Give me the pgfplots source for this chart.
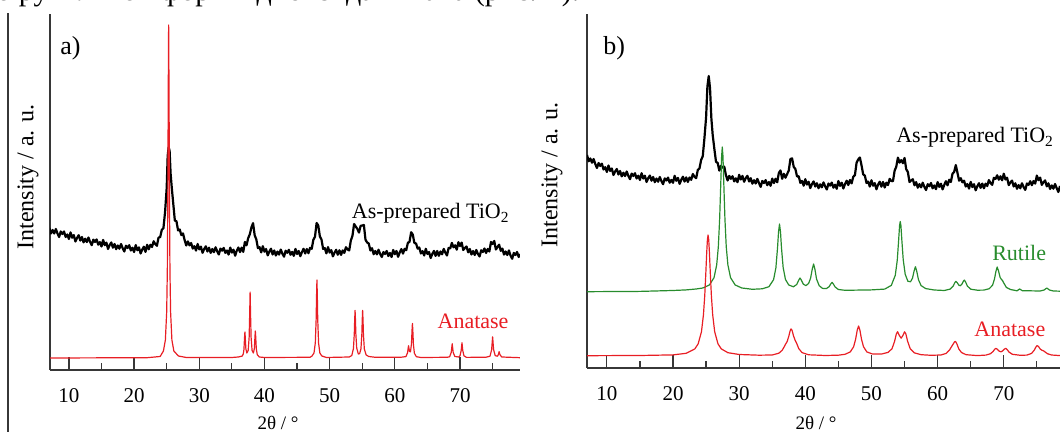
\documentclass[border=0pt]{standalone}
\usepackage{fontspec}
\setmainfont{Liberation Serif}
\usepackage{pgfplots}
\pgfplotsset{compat=1.18}
\definecolor{xred}{RGB}{232,30,36}
\definecolor{xgreen}{RGB}{40,140,45}
\definecolor{axgray}{RGB}{55,55,55}
\pgfplotsset{
  xrd/.style={
    scale only axis, anchor=south west,
    axis x line*=bottom, axis y line*=left,
    ytick=\empty,
    xtick={10,20,...,70}, minor xtick={15,25,...,75},
    tick align=inside,
    major tick length=6.5pt, minor tick length=3.5pt,
    every tick/.style={axgray, line width=0.6pt},
    axis line style={axgray, line width=0.7pt},
    xticklabel style={font=\fontsize{10.5}{12}\selectfont, yshift=-5.5pt},
    /pgf/number format/assume math mode=true,
  }
}
\begin{document}
\begin{tikzpicture}
\useasboundingbox (0,0) rectangle (530pt,216pt);
\begin{scope}
\clip (0,0) rectangle (530pt,216pt);
\node[anchor=base west, inner sep=0, font=\fontsize{15}{18}\selectfont] at (-2pt,215.5pt) {о рутильной формы диоксида титана (рис. 1).};
\end{scope}
\draw[axgray, line width=0.8pt] (4pt,0) -- (4pt,209.5pt);

% ---------------- panel a ----------------
\begin{axis}[xrd, at={(25pt,31pt)}, width=235pt, height=178pt,
  xmin=7.1, xmax=79.2, ymin=0, ymax=356]
\addplot[black, line width=1.1pt, line join=round] coordinates {
(7,142)(7.25,136.5)(7.5,140)(7.75,136.5)(8,141)(8.25,136.5)(8.5,133)(8.75,138.5)(9,136)(9.25,138.5)(9.5,133)(9.75,135.5)(10,131)(10.25,137.6)(10.5,132.3)(10.75,134.9)(11,128.5)(11.25,132.1)(11.5,134.8)(11.75,129.4)(12,133)(12.25,127.6)(12.5,131.3)(12.75,127.9)(13,132.5)(13.25,128.1)(13.5,124.8)(13.75,130.4)(14,128)(14.25,130.6)(14.5,125.3)(14.75,127.9)(15,123.5)(15.25,130.1)(15.5,124.8)(15.75,127.4)(16,121)(16.25,124.8)(16.5,127.5)(16.75,122.3)(17,126)(17.25,120.8)(17.5,124.5)(17.75,121.3)(18,126)(18.25,121.8)(18.5,118.5)(18.75,124.3)(19,122)(19.25,124.8)(19.5,119.5)(19.75,122.3)(20,118)(20.25,124.9)(20.5,119.8)(20.75,122.6)(21,116.5)(21.25,120.4)(21.5,123.3)(21.75,118.1)(22,125.2)(22.25,120.7)(22.5,125.2)(22.75,123)(23,128.7)(23.25,125.9)(23.5,124.2)(23.75,132.4)(24,132.9)(24.25,140.1)(24.5,141.8)(24.75,157.8)(25,181.7)(25.15,213.7)(25.3,222.7)(25.45,219.2)(25.6,196.6)(25.75,184.6)(26,167)(26.25,149.5)(26.5,148.8)(26.75,139.5)(27,140.5)(27.25,134.9)(27.5,136.6)(27.75,130)(28,124.5)(28.25,128.6)(28.5,124.6)(28.75,127)(29,121.4)(29.25,123.8)(29.5,119.4)(29.75,126)(30,120.6)(30.25,123.4)(30.5,117.2)(30.75,120.9)(31,123.7)(31.25,118.5)(31.5,122.3)(31.75,117.1)(32,121)(32.25,117.8)(32.5,122.7)(32.75,118.7)(33,115.5)(33.25,121.4)(33.5,119.3)(33.75,122.1)(34,117.1)(34.25,119.5)(34.5,115.4)(34.75,122.4)(35,117.4)(35.25,120.3)(35.5,114.3)(35.75,119.3)(36,122.5)(36.25,117.9)(36.5,122.4)(36.75,118.1)(37,128.1)(37.25,124.7)(37.5,131.8)(37.75,135.7)(38,142.6)(38.25,146.9)(38.5,134.7)(38.75,130.6)(39,121.8)(39.25,122.8)(39.5,117.6)(39.75,123.8)(40,118.3)(40.25,121)(40.5,114.6)(40.75,118.4)(41,121.3)(41.25,115.5)(41.5,119.5)(41.75,114.5)(42,118.4)(42.25,115.4)(42.5,120.4)(42.75,116.3)(43,113.3)(43.25,119.3)(43.5,117.2)(43.75,120.2)(44,115.2)(44.25,118.1)(44.5,114.1)(44.75,121.1)(45,116)(45.25,119)(45.5,113.8)(45.75,117.9)(46,121.2)(46.25,116.5)(46.5,121)(46.75,116.8)(47,122.2)(47.25,121.2)(47.5,130.2)(47.75,133.2)(48,147)(48.25,144.6)(48.5,133.6)(48.75,130.5)(49,121)(49.25,121.9)(49.5,116.6)(49.75,122.9)(50,117.4)(50.25,119.9)(50.5,113.6)(50.75,117.3)(51,120.2)(51.25,115.2)(51.5,119.7)(51.75,115.1)(52,119.6)(52.25,117.1)(52.5,122.8)(52.75,120.5)(53,119.5)(53.25,129.5)(53.5,134.2)(53.75,146)(54,143.5)(54.25,141.1)(54.5,137.4)(54.75,144.1)(55,144.5)(55.25,145)(55.5,130.2)(55.75,127.5)(56,126.5)(56.25,119.5)(56.5,121.8)(56.75,115.8)(57,119)(57.25,115.6)(57.5,120.3)(57.75,116)(58,113)(58.25,118)(58.5,116)(58.75,119)(59,114)(59.25,117)(59.5,113)(59.75,120)(60,115.8)(60.25,119)(60.5,113.2)(60.75,117.5)(61,120.9)(61.25,116.4)(61.5,121.2)(61.75,119.8)(62,127.2)(62.25,128.1)(62.5,137.8)(62.75,135.5)(63,127)(63.25,126.6)(63.5,121.3)(63.75,122.5)(64,116.5)(64.25,118.9)(64.5,114.5)(64.75,121.2)(65,116)(65.25,118)(65.5,112)(65.75,116)(66,119.1)(66.25,114.1)(66.5,119)(66.75,114.2)(67,118.5)(67.25,115.7)(67.5,121.1)(67.75,117.4)(68,114.5)(68.25,122)(68.5,121.6)(68.75,127.1)(69,122.7)(69.25,124.7)(69.5,120.3)(69.75,127.8)(70,123.9)(70.25,127.4)(70.5,120)(70.75,122)(71,123.5)(71.25,117.7)(71.5,121)(71.75,115.5)(72,119)(72.25,115)(72.5,120)(72.75,116)(73,113.5)(73.25,119.7)(73.5,118)(73.75,121.5)(74,117)(74.25,121)(74.5,118.5)(74.75,128)(75,126)(75.25,129)(75.5,120.5)(75.75,123)(76,125.3)(76.25,119.1)(76.5,121.4)(76.75,115.4)(77,118.5)(77.25,115)(77.5,119.6)(77.75,114.4)(78,111.2)(78.25,117)(78.5,115)(78.75,118)(79,113)(79.2,116)
};
\addplot[xred, line width=0.6pt, line join=round] coordinates {
(7.1,12)(22,12.3)(24,13.5)(24.5,19)(24.8,30)(25,58)(25.1,100)(25.18,179)(25.24,278)(25.3,345)(25.36,278)(25.42,179)(25.5,100)(25.6,58)(25.8,30)(26.1,19)(26.8,14)(28,12.5)(35,12.5)(36,13)(36.3,13.5)(36.6,14)(36.75,16)(36.85,20.4)(36.95,33)(37,38)(37.05,33)(37.15,21)(37.3,17)(37.5,19.5)(37.65,32.6)(37.72,52)(37.8,78)(37.88,52)(37.95,32.6)(38.1,19.5)(38.3,17)(38.45,21.5)(38.55,34)(38.6,39)(38.65,34)(38.75,21)(38.9,15.3)(39.2,13)(40,12.5)(47,12.7)(47.3,14)(47.6,17)(47.8,27)(47.93,51)(47.99,74)(48.05,90)(48.11,74)(48.17,51)(48.3,27)(48.5,17)(48.8,14)(49.5,12.5)(53,13)(53.4,14.5)(53.65,21.5)(53.78,36)(53.84,50)(53.9,59.6)(53.96,50)(54.02,36)(54.15,22)(54.4,16)(54.6,16.4)(54.8,21)(54.94,36)(55,50)(55.06,59.6)(55.12,50)(55.18,36)(55.32,21)(55.6,15)(56,13.5)(57,12.7)(61,12.8)(61.7,13.4)(61.95,17.2)(62.1,24.3)(62.25,18.5)(62.4,18.2)(62.55,26)(62.64,39.8)(62.7,46.5)(62.76,39.6)(62.85,25.5)(63,16.7)(63.3,13.3)(64,12.5)(68,12.7)(68.4,13.2)(68.65,17.5)(68.8,26.2)(68.95,17.6)(69.2,13.5)(69.8,13)(70,14.2)(70.18,19.6)(70.3,27.2)(70.42,19.5)(70.6,14.2)(71,12.6)(74,12.8)(74.6,13.8)(74.85,20.3)(75,33.2)(75.15,20.4)(75.4,14.3)(75.75,13.8)(75.88,15.5)(76,18.3)(76.12,15.4)(76.4,13)(79.2,12.3)
};
\node[anchor=base east, inner sep=0, font=\fontsize{11}{13}\selectfont] at (axis cs:77.65,151) {As-prepared TiO\textsubscript{2}};
\node[anchor=base east, inner sep=0, text=xred, font=\fontsize{11}{13}\selectfont] at (axis cs:77.5,41) {Anatase};
\end{axis}

% ---------------- panel b ----------------
\begin{axis}[xrd, at={(293.5pt,32pt)}, width=236.5pt, height=177pt,
  xmin=7, xmax=78.5, ymin=0, ymax=354]
\addplot[black, line width=1.1pt, line join=round] coordinates {
(7,213)(7.25,206.8)(7.5,209.5)(7.75,205.3)(8,209)(8.25,204)(8.5,200)(8.75,205)(9,202)(9.25,204.3)(9.5,198.5)(9.75,200.8)(10,196)(10.25,202.5)(10.5,197)(10.75,199.5)(11,193)(11.25,196.5)(11.5,199)(11.75,193.5)(12,197)(12.25,191.6)(12.5,195.3)(12.75,191.9)(13,196.5)(13.25,192.1)(13.5,188.8)(13.75,194.4)(14,192)(14.25,194.8)(14.5,189.5)(14.75,192.3)(15,188)(15.25,194.8)(15.5,189.5)(15.75,192.3)(16,186)(16.25,189.8)(16.5,192.5)(16.75,187.3)(17,191)(17.25,185.8)(17.5,189.5)(17.75,186.3)(18,191)(18.25,186.9)(18.5,183.8)(18.75,189.6)(19,187.5)(19.25,190.4)(19.5,185.3)(19.75,188.1)(20,185.2)(20.25,192.2)(20.5,187.2)(20.75,190.1)(21,184.1)(21.25,188.2)(21.5,191.3)(21.75,186.4)(22,190.6)(22.25,186)(22.5,190.5)(22.75,188.2)(23,194)(23.25,191.2)(23.5,189.8)(23.75,198.1)(24,199.5)(24.25,208)(24.5,211.8)(24.75,229.8)(25,250.5)(25.2,281.5)(25.4,292)(25.6,279.5)(25.8,249.5)(26,233)(26.25,219.2)(26.5,206.2)(26.75,205.1)(27,197.4)(27.25,202.2)(27.5,200.2)(27.75,201.3)(28,192.9)(28.25,187.5)(28.5,192.1)(28.75,189.2)(29,191.8)(29.25,186.6)(29.5,189.7)(29.75,185.8)(30,193.2)(30.25,188.5)(30.5,192.1)(30.75,186.2)(31,189.9)(31.25,192.2)(31.5,186.5)(31.75,189.8)(32,184.3)(32.25,187.8)(32.5,184.5)(32.75,189.1)(33,184.9)(33.25,181.1)(33.5,187)(33.75,184.9)(34,187.9)(34.25,182.8)(34.5,186)(34.75,182.2)(35,189.4)(35.25,184.9)(35.5,189.2)(35.75,185.7)(36,195)(36.25,197.6)(36.5,189.2)(36.75,194.2)(37,190.3)(37.25,193.9)(37.5,197.5)(37.75,209)(38,209.6)(38.25,201.1)(38.5,199)(38.75,191.5)(39,191.8)(39.25,185.1)(39.5,187.1)(39.75,182.3)(40,188.8)(40.25,183.4)(40.5,186.2)(40.75,179.9)(41,183.8)(41.25,186.6)(41.5,181.5)(41.75,184.8)(42,179.8)(42.25,183.7)(42.5,180.7)(42.75,185.6)(43,181.6)(43.25,178.5)(43.5,184.5)(43.75,182.4)(44,185.4)(44.25,180.3)(44.5,183.3)(44.75,179.2)(45,187)(45.25,182.1)(45.5,185.3)(45.75,179.5)(46,183.9)(46.25,187.3)(46.5,183)(46.75,188)(47,184.6)(47.25,191.2)(47.5,192.9)(47.75,205.3)(48,208.6)(48.25,210.5)(48.5,202.5)(48.75,193.6)(49,192.4)(49.25,185)(49.5,186.4)(49.75,181.4)(50,187.7)(50.25,182.3)(50.5,184.9)(50.75,178.7)(51,183.4)(51.25,186.3)(51.5,181.3)(51.75,186.1)(52,180.5)(52.25,185.3)(52.5,182.9)(52.75,189.1)(53,187)(53.25,186.8)(53.5,197.3)(53.75,201.3)(54,210.4)(54.25,205.4)(54.5,207.9)(54.75,204.8)(55,210)(55.25,198.8)(55.5,196)(55.75,186)(56,187.5)(56.25,188.8)(56.5,182.7)(56.75,185.9)(57,180.3)(57.25,183.9)(57.5,180.6)(57.75,185.3)(58,181.1)(58.25,177.9)(58.5,183.8)(58.75,181.8)(59,185)(59.25,179.6)(59.5,182.6)(59.75,178.8)(60,185.9)(60.25,181.1)(60.5,184.3)(60.75,178.6)(61,183)(61.25,186.8)(61.5,182.7)(61.75,188.2)(62,186)(62.25,194.2)(62.5,196.1)(62.75,202.9)(63,195.2)(63.25,187.3)(63.5,189.8)(63.75,185.7)(64,187.3)(64.25,181.5)(64.5,183.9)(64.75,179.4)(65,186.1)(65.25,180.9)(65.5,183.8)(65.75,177.7)(66,181.7)(66.25,184.8)(66.5,180.1)(66.75,184.4)(67,179.7)(67.25,184.3)(67.5,182)(67.75,187.9)(68,184.9)(68.25,183.1)(68.5,190.2)(68.75,189.1)(69,192.7)(69.25,188.3)(69.5,191.7)(69.75,187.7)(70,194.3)(70.25,188.5)(70.5,190.3)(70.75,182.9)(71,185.5)(71.25,187.4)(71.5,181.5)(71.75,184.7)(72,179.2)(72.25,182.9)(72.5,179.7)(72.75,184.7)(73,180.9)(73.25,178.1)(73.5,184.5)(73.75,183.1)(74,186.8)(74.25,182.8)(74.5,187)(74.75,184.4)(75,192.4)(75.25,187.8)(75.5,190.4)(75.75,183.1)(76,185.8)(76.25,187.6)(76.5,181.6)(76.75,184.7)(77,179)(77.25,182.6)(77.5,179.3)(77.75,184)(78,179.8)(78.25,176)(78.5,182)
};
\addplot[xgreen, line width=0.6pt, line join=round] coordinates {
(7,76.3)(15,76.6)(20,77.5)(22,78.1)(23.5,79)(24.5,80)(25.5,83)(26.2,90.3)(26.6,103)(26.85,121)(27.05,149)(27.2,180)(27.35,212)(27.45,221)(27.55,212)(27.7,180)(27.85,149)(28.05,121)(28.3,103)(28.7,90.3)(29.4,83)(30.4,80)(32,78.7)(33.5,79.2)(34.5,81.3)(35.2,88.3)(35.55,100)(35.8,120)(35.95,136)(36.1,144)(36.25,136)(36.4,120)(36.65,100.5)(37,88.5)(37.5,83)(38.2,81.2)(38.7,83.5)(39,87.8)(39.2,90)(39.4,87.9)(39.7,83.8)(40.1,82.4)(40.5,84.6)(40.8,89.9)(41.05,98.9)(41.25,104)(41.45,98.8)(41.7,88.9)(42.1,82.3)(42.6,79.6)(43.2,79.5)(43.6,81.3)(43.85,84.1)(44.05,85.6)(44.25,83.9)(44.5,81)(45,78.5)(46,77.7)(50,78.1)(52,78.9)(53,82.6)(53.6,92.7)(53.9,107.8)(54.1,127)(54.25,142.5)(54.35,146.5)(54.45,142.6)(54.6,127.2)(54.8,108.3)(55.1,93.7)(55.5,86.8)(55.9,86.2)(56.2,89.8)(56.45,97.2)(56.65,101.3)(56.85,96.6)(57.1,88.4)(57.5,82.4)(58.2,79.4)(59.5,78)(61,77.5)(61.9,78.9)(62.35,81.9)(62.6,85.3)(62.75,86.6)(62.95,85.4)(63.25,82.5)(63.45,82.3)(63.7,84.1)(63.9,86.9)(64.05,87.9)(64.25,85.7)(64.5,81.9)(65,78.8)(66,77.8)(67,77.9)(67.8,79.3)(68.3,82.7)(68.6,89.1)(68.8,96.2)(69,101)(69.2,97.2)(69.45,90.5)(69.65,88.6)(69.8,87.6)(70,85)(70.4,80.5)(71,78.5)(72,77.2)(72.4,79)(72.8,77.3)(75.5,77)(76.1,78)(76.5,80)(76.9,78)(77.5,77)(78.5,76.8)
};
\addplot[xred, line width=0.6pt, line join=round] coordinates {
(7,12.3)(15,12.5)(20,13.1)(22,14.7)(23.3,19.1)(23.8,24.1)(24.3,36.2)(24.6,53.1)(24.8,72.5)(24.95,93.2)(25.1,116)(25.2,128.3)(25.3,133)(25.4,128.3)(25.5,116)(25.65,93.2)(25.8,72.5)(26,53.1)(26.3,36.2)(26.8,24.1)(27.3,19.1)(28.3,15.3)(30,13.5)(33,12.8)(35,13)(36,14.8)(36.5,17.7)(36.8,21.1)(37,23.7)(37.25,26.4)(37.5,31.6)(37.7,37.1)(37.85,39.1)(38,37.6)(38.2,32.5)(38.45,27.9)(38.7,24.5)(39,19.5)(39.5,15.4)(40.5,13.2)(43,12.5)(45,12.8)(46,13.7)(46.8,16.1)(47.3,21.2)(47.6,28.6)(47.85,37.9)(48.05,42)(48.25,37.9)(48.5,28.6)(48.8,21.2)(49.3,16.1)(50.1,14.1)(51.5,13.9)(52.5,15.6)(53.1,19.2)(53.5,26.7)(53.75,33.9)(53.95,36.3)(54.2,32.7)(54.48,29.8)(54.75,32.4)(55,36.2)(55.2,34.1)(55.45,27)(55.85,19.4)(56.5,15.1)(57.5,13.3)(59,12.7)(60.5,13)(61.3,14.6)(61.8,18)(62.1,21.3)(62.35,23.9)(62.55,26.1)(62.7,26.6)(62.9,24.3)(63.2,19.1)(63.6,15.5)(64.3,13.3)(66,12.4)(67.3,12.9)(68,14.3)(68.4,16.7)(68.65,18.9)(68.8,19.6)(69,18.9)(69.3,16.9)(69.55,16.2)(69.8,16.9)(70.1,18.9)(70.3,19.7)(70.5,18.5)(70.8,15.9)(71.3,13.7)(72.5,12.7)(73.5,12.9)(74.2,14.6)(74.6,17.8)(74.85,20.9)(75.05,22.4)(75.25,21.5)(75.5,19)(75.75,17.8)(76,17.2)(76.25,16)(76.6,14.3)(77.2,13)(78.5,12.4)
};
\node[anchor=base west, inner sep=0, font=\fontsize{11}{13}\selectfont] at (axis cs:53.7,225) {As-prepared TiO\textsubscript{2}};
\node[anchor=base west, inner sep=0, text=xgreen, font=\fontsize{11}{13}\selectfont] at (axis cs:68.2,107) {Rutile};
\node[anchor=base west, inner sep=0, text=xred, font=\fontsize{11}{13}\selectfont] at (axis cs:65.5,31) {Anatase};
\end{axis}

% panel letters and axis titles
\node[anchor=base west, inner sep=0, font=\fontsize{13}{15}\selectfont] at (30pt,188.5pt) {a)};
\node[anchor=base west, inner sep=0, font=\fontsize{13}{15}\selectfont] at (301.5pt,188.5pt) {b)};
\node[rotate=90, inner sep=0, font=\fontsize{12}{14}\selectfont] at (14pt,127.5pt) {Intensity / a. u.};
\node[rotate=90, inner sep=0, font=\fontsize{12}{14}\selectfont] at (276pt,128.5pt) {Intensity / a. u.};
\node[anchor=base, inner sep=0, font=\fontsize{9.5}{11}\selectfont] at (139pt,1pt) {2θ / °};
\node[anchor=base, inner sep=0, font=\fontsize{9.5}{11}\selectfont] at (408pt,1pt) {2θ / °};
\end{tikzpicture}
\end{document}
